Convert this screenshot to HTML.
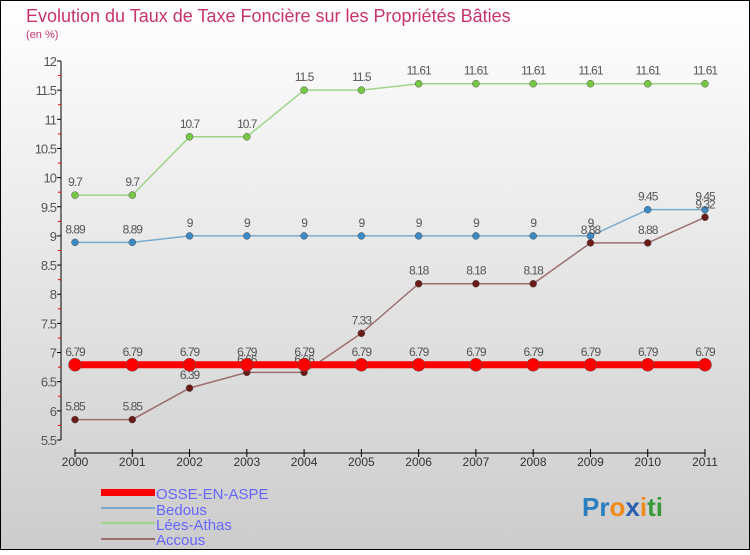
<!DOCTYPE html>
<html><head><meta charset="utf-8"><style>
body{margin:0;width:750px;height:550px;overflow:hidden;font-family:"Liberation Sans",sans-serif}
svg text{font-family:"Liberation Sans",sans-serif}
</style></head><body>
<svg width="750" height="550" id="c">
<defs><linearGradient id="bg" x1="0" y1="0" x2="0" y2="1"><stop offset="0" stop-color="#ffffff"/><stop offset="1" stop-color="#cccccc"/></linearGradient></defs>
<rect x="0.5" y="0.5" width="749" height="549" fill="url(#bg)" stroke="#000"/>
<text x="26" y="22" font-size="18" fill="#c8336e">Evolution du Taux de Taxe Foncière sur les Propriétés Bâties</text>
<text x="26" y="38" font-size="11" fill="#c8336e">(en %)</text>
<g id="axes"></g><g id="series"></g>
<g>
<rect x="101" y="489" width="54" height="7" fill="#f00"/>
<text x="156" y="499" font-size="15" fill="#6666ff">OSSE-EN-ASPE</text>
<line x1="101" y1="508" x2="155" y2="508" stroke="#7aaace" stroke-width="2"/>
<text x="156" y="515" font-size="15" fill="#6666ff">Bedous</text>
<line x1="101" y1="523" x2="155" y2="523" stroke="#9fd58a" stroke-width="2"/>
<text x="156" y="530" font-size="15" fill="#6666ff">Lées-Athas</text>
<line x1="101" y1="539" x2="155" y2="539" stroke="#9c6e6e" stroke-width="2"/>
<text x="156" y="545" font-size="15" fill="#6666ff">Accous</text>
</g>
<text x="582" y="516" font-size="26" font-weight="bold"><tspan fill="#2a7fc0">Pr</tspan><tspan fill="#f08a1c">o</tspan><tspan fill="#2a5fb0">x</tspan><tspan fill="#f08a1c">i</tspan><tspan fill="#3a9a3a">ti</tspan></text>
</svg>
<script>
const years=[2000,2001,2002,2003,2004,2005,2006,2007,2008,2009,2010,2011];
const osse=[6.79,6.79,6.79,6.79,6.79,6.79,6.79,6.79,6.79,6.79,6.79,6.79];
const bedous=[8.89,8.89,9,9,9,9,9,9,9,9,9.45,9.45];
const lees=[9.7,9.7,10.7,10.7,11.5,11.5,11.61,11.61,11.61,11.61,11.61,11.61];
const accous=[5.85,5.85,6.39,6.66,6.66,7.33,8.18,8.18,8.18,8.88,8.88,9.32];
const yTicks=[5.5,6,6.5,7,7.5,8,8.5,9,9.5,10,10.5,11,11.5,12];
const NS="http://www.w3.org/2000/svg";
function X(i){return 75+i*(705-75)/(years.length-1);}
function Y(v){return 440-(v-5.5)*(440-61)/6.5;}
function mk(t,a,p){const e=document.createElementNS(NS,t);for(const k in a)e.setAttribute(k,a[k]);p.appendChild(e);return e;}
const ax=document.getElementById('axes'),sg=document.getElementById('series');
let l=mk('line',{x1:61,y1:Y(12),x2:61,y2:Y(5.5),stroke:'#000'},ax);


yTicks.forEach(v=>{
 mk('line',{x1:57,y1:Y(v),x2:61,y2:Y(v),stroke:'#000'},ax);
 if(v<12)mk('line',{x1:58,y1:Y(v+0.25),x2:61,y2:Y(v+0.25),stroke:'#e00'},ax);
 const t=mk('text',{x:56,y:Y(v)+5,'font-size':13,'text-anchor':'end',fill:'#555','letter-spacing':'-1'},ax);
 t.textContent=String(v);
 
 
});
let xl=mk('line',{x1:X(0),y1:453,x2:X(11),y2:453,stroke:'#000'},ax);


years.forEach((y,i)=>{
 mk('line',{x1:X(i),y1:449,x2:X(i),y2:457,stroke:'#000'},ax);
 const t=mk('text',{x:X(i),y:466,'font-size':12,'text-anchor':'middle',fill:'#333'},ax);
 t.textContent=y;
 
 
});
function series(vals,color,dot,w,r,name){
 const g=mk('g',{},sg);
 
 
 mk('polyline',{points:vals.map((v,i)=>X(i)+','+Y(v)).join(' '),fill:'none',stroke:color,'stroke-width':w},g);
 vals.forEach((v,i)=>{
  const c=mk('circle',{cx:X(i),cy:Y(v),r:r,fill:dot,stroke:'#555','stroke-width':0.5},g);
  
  
  const t=mk('text',{x:X(i),y:Y(v)-9,'font-size':12,'text-anchor':'middle',fill:'#555','letter-spacing':'-1'},g);
  t.textContent=String(v);
 });
}
series(lees,'#9fd58a','#76c842',1.5,3.5,'lees-athas-series');
series(bedous,'#7aaace','#3b8ac6',1.5,3.5,'bedous-series');
series(accous,'#9c6e6e','#6b1a1a',1.5,3.5,'accous-series');
series(osse,'#f00','#f00',7,6.5,'osse-series');
</script>
</body></html>
